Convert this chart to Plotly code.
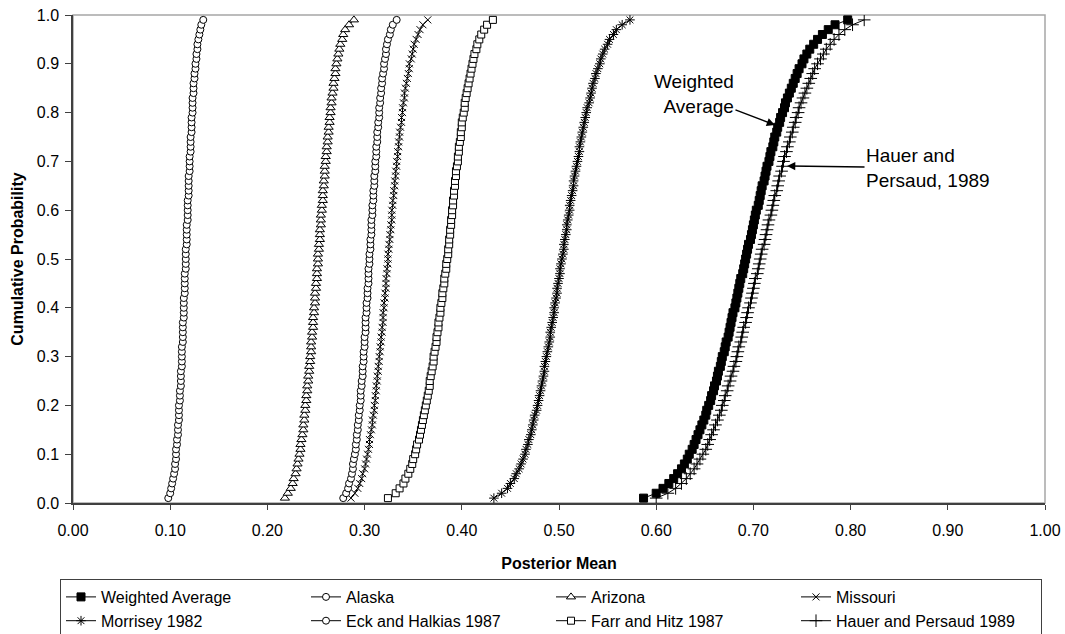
import plotly.graph_objects as go

# Cumulative probability levels (y values shared by all series)
prob = [0.01, 0.02, 0.03, 0.04, 0.05, 0.06, 0.07, 0.08, 0.09, 0.10,
        0.11, 0.12, 0.13, 0.14, 0.15, 0.16, 0.17, 0.18, 0.19, 0.20,
        0.21, 0.22, 0.23, 0.24, 0.25, 0.26, 0.27, 0.28, 0.29, 0.30,
        0.31, 0.32, 0.33, 0.34, 0.35, 0.36, 0.37, 0.38, 0.39, 0.40,
        0.41, 0.42, 0.43, 0.44, 0.45, 0.46, 0.47, 0.48, 0.49, 0.50,
        0.51, 0.52, 0.53, 0.54, 0.55, 0.56, 0.57, 0.58, 0.59, 0.60,
        0.61, 0.62, 0.63, 0.64, 0.65, 0.66, 0.67, 0.68, 0.69, 0.70,
        0.71, 0.72, 0.73, 0.74, 0.75, 0.76, 0.77, 0.78, 0.79, 0.80,
        0.81, 0.82, 0.83, 0.84, 0.85, 0.86, 0.87, 0.88, 0.89, 0.90,
        0.91, 0.92, 0.93, 0.94, 0.95, 0.96, 0.97, 0.98, 0.99]

weighted_average = [0.587, 0.600, 0.607, 0.613, 0.618, 0.622, 0.626, 0.629, 0.632, 0.634,
                    0.637, 0.639, 0.641, 0.643, 0.645, 0.647, 0.649, 0.651, 0.652, 0.654,
                    0.656, 0.657, 0.659, 0.660, 0.662, 0.663, 0.664, 0.666, 0.667, 0.668,
                    0.670, 0.671, 0.672, 0.674, 0.675, 0.676, 0.677, 0.678, 0.679, 0.681,
                    0.682, 0.683, 0.684, 0.685, 0.686, 0.687, 0.689, 0.690, 0.691, 0.692,
                    0.693, 0.694, 0.695, 0.697, 0.698, 0.699, 0.700, 0.701, 0.702, 0.703,
                    0.705, 0.706, 0.707, 0.708, 0.709, 0.711, 0.712, 0.713, 0.714, 0.716,
                    0.717, 0.718, 0.720, 0.721, 0.722, 0.724, 0.725, 0.727, 0.728, 0.730,
                    0.732, 0.733, 0.735, 0.737, 0.739, 0.741, 0.743, 0.745, 0.747, 0.750,
                    0.752, 0.755, 0.758, 0.762, 0.766, 0.771, 0.777, 0.784, 0.797]

alaska = [0.098, 0.100, 0.101, 0.102, 0.103, 0.104, 0.105, 0.105, 0.106, 0.106,
          0.106, 0.107, 0.107, 0.108, 0.108, 0.108, 0.109, 0.109, 0.109, 0.109,
          0.110, 0.110, 0.110, 0.111, 0.111, 0.111, 0.111, 0.112, 0.112, 0.112,
          0.112, 0.112, 0.113, 0.113, 0.113, 0.113, 0.113, 0.114, 0.114, 0.114,
          0.114, 0.114, 0.115, 0.115, 0.115, 0.115, 0.115, 0.116, 0.116, 0.116,
          0.116, 0.116, 0.117, 0.117, 0.117, 0.117, 0.117, 0.118, 0.118, 0.118,
          0.118, 0.118, 0.119, 0.119, 0.119, 0.119, 0.119, 0.120, 0.120, 0.120,
          0.120, 0.121, 0.121, 0.121, 0.121, 0.122, 0.122, 0.122, 0.122, 0.123,
          0.123, 0.123, 0.123, 0.124, 0.124, 0.124, 0.125, 0.125, 0.126, 0.126,
          0.127, 0.127, 0.128, 0.128, 0.129, 0.130, 0.131, 0.132, 0.134]

arizona = [0.218, 0.221, 0.224, 0.226, 0.227, 0.229, 0.230, 0.231, 0.232, 0.233,
           0.234, 0.234, 0.235, 0.236, 0.237, 0.237, 0.238, 0.238, 0.239, 0.239,
           0.240, 0.240, 0.241, 0.241, 0.242, 0.242, 0.243, 0.243, 0.244, 0.244,
           0.245, 0.245, 0.245, 0.246, 0.246, 0.247, 0.247, 0.247, 0.248, 0.248,
           0.249, 0.249, 0.249, 0.250, 0.250, 0.251, 0.251, 0.251, 0.252, 0.252,
           0.252, 0.253, 0.253, 0.254, 0.254, 0.254, 0.255, 0.255, 0.255, 0.256,
           0.256, 0.257, 0.257, 0.257, 0.258, 0.258, 0.259, 0.259, 0.259, 0.260,
           0.260, 0.261, 0.261, 0.262, 0.262, 0.263, 0.263, 0.264, 0.264, 0.265,
           0.265, 0.266, 0.266, 0.267, 0.268, 0.268, 0.269, 0.270, 0.270, 0.271,
           0.272, 0.273, 0.274, 0.275, 0.277, 0.278, 0.280, 0.284, 0.289]

missouri = [0.286, 0.290, 0.293, 0.295, 0.297, 0.298, 0.300, 0.301, 0.302, 0.303,
            0.304, 0.305, 0.305, 0.306, 0.307, 0.308, 0.308, 0.309, 0.310, 0.310,
            0.311, 0.311, 0.312, 0.312, 0.313, 0.313, 0.314, 0.314, 0.315, 0.315,
            0.316, 0.316, 0.317, 0.317, 0.318, 0.318, 0.319, 0.319, 0.319, 0.320,
            0.320, 0.321, 0.321, 0.322, 0.322, 0.322, 0.323, 0.323, 0.324, 0.324,
            0.324, 0.325, 0.325, 0.326, 0.326, 0.327, 0.327, 0.328, 0.328, 0.328,
            0.329, 0.329, 0.330, 0.330, 0.331, 0.331, 0.332, 0.332, 0.333, 0.333,
            0.334, 0.334, 0.335, 0.335, 0.336, 0.336, 0.337, 0.338, 0.338, 0.339,
            0.339, 0.340, 0.341, 0.341, 0.342, 0.343, 0.344, 0.345, 0.346, 0.346,
            0.348, 0.349, 0.350, 0.351, 0.353, 0.355, 0.357, 0.360, 0.365]

morrisey_1982 = [0.433, 0.441, 0.447, 0.450, 0.454, 0.456, 0.459, 0.461, 0.463, 0.465,
                 0.466, 0.468, 0.469, 0.471, 0.472, 0.473, 0.474, 0.475, 0.477, 0.478,
                 0.479, 0.480, 0.481, 0.482, 0.483, 0.484, 0.485, 0.485, 0.486, 0.487,
                 0.488, 0.489, 0.490, 0.491, 0.491, 0.492, 0.493, 0.494, 0.495, 0.495,
                 0.496, 0.497, 0.498, 0.498, 0.499, 0.500, 0.501, 0.501, 0.502, 0.503,
                 0.504, 0.505, 0.505, 0.506, 0.507, 0.508, 0.508, 0.509, 0.510, 0.511,
                 0.511, 0.512, 0.513, 0.514, 0.515, 0.515, 0.516, 0.517, 0.518, 0.519,
                 0.520, 0.521, 0.521, 0.522, 0.523, 0.524, 0.525, 0.526, 0.527, 0.528,
                 0.529, 0.531, 0.532, 0.533, 0.534, 0.535, 0.537, 0.538, 0.540, 0.542,
                 0.543, 0.545, 0.547, 0.550, 0.552, 0.556, 0.559, 0.565, 0.573]

eck_halkias_1987 = [0.278, 0.281, 0.283, 0.284, 0.286, 0.287, 0.288, 0.288, 0.289, 0.290,
                    0.291, 0.291, 0.292, 0.292, 0.293, 0.293, 0.294, 0.294, 0.295, 0.295,
                    0.296, 0.296, 0.296, 0.297, 0.297, 0.298, 0.298, 0.298, 0.299, 0.299,
                    0.299, 0.300, 0.300, 0.300, 0.301, 0.301, 0.301, 0.301, 0.302, 0.302,
                    0.302, 0.303, 0.303, 0.303, 0.304, 0.304, 0.304, 0.304, 0.305, 0.305,
                    0.305, 0.306, 0.306, 0.306, 0.307, 0.307, 0.307, 0.307, 0.308, 0.308,
                    0.308, 0.309, 0.309, 0.309, 0.310, 0.310, 0.310, 0.311, 0.311, 0.311,
                    0.312, 0.312, 0.312, 0.313, 0.313, 0.313, 0.314, 0.314, 0.315, 0.315,
                    0.315, 0.316, 0.316, 0.317, 0.317, 0.318, 0.318, 0.319, 0.320, 0.320,
                    0.321, 0.322, 0.322, 0.323, 0.324, 0.326, 0.327, 0.329, 0.333]

farr_hitz_1987 = [0.324, 0.332, 0.336, 0.340, 0.342, 0.345, 0.347, 0.349, 0.350, 0.352,
                  0.353, 0.354, 0.356, 0.357, 0.358, 0.359, 0.360, 0.361, 0.362, 0.363,
                  0.364, 0.365, 0.366, 0.367, 0.367, 0.368, 0.369, 0.370, 0.371, 0.371,
                  0.372, 0.373, 0.374, 0.374, 0.375, 0.376, 0.376, 0.377, 0.378, 0.378,
                  0.379, 0.380, 0.380, 0.381, 0.382, 0.382, 0.383, 0.384, 0.384, 0.385,
                  0.386, 0.386, 0.387, 0.387, 0.388, 0.388, 0.389, 0.389, 0.390, 0.390,
                  0.391, 0.391, 0.392, 0.392, 0.393, 0.393, 0.394, 0.394, 0.395, 0.396,
                  0.396, 0.397, 0.397, 0.398, 0.399, 0.399, 0.400, 0.400, 0.401, 0.402,
                  0.403, 0.403, 0.404, 0.405, 0.406, 0.407, 0.408, 0.409, 0.410, 0.411,
                  0.412, 0.413, 0.415, 0.416, 0.418, 0.420, 0.423, 0.426, 0.432]

hauer_persaud_1989 = [0.600, 0.612, 0.620, 0.626, 0.631, 0.635, 0.639, 0.642, 0.645, 0.648,
                      0.651, 0.653, 0.655, 0.657, 0.659, 0.661, 0.663, 0.665, 0.667, 0.668,
                      0.670, 0.671, 0.673, 0.674, 0.676, 0.677, 0.679, 0.680, 0.682, 0.683,
                      0.684, 0.685, 0.687, 0.688, 0.689, 0.690, 0.692, 0.693, 0.694, 0.695,
                      0.697, 0.698, 0.699, 0.700, 0.701, 0.702, 0.704, 0.705, 0.706, 0.707,
                      0.708, 0.709, 0.711, 0.712, 0.713, 0.714, 0.715, 0.716, 0.718, 0.719,
                      0.720, 0.721, 0.722, 0.724, 0.725, 0.726, 0.727, 0.729, 0.730, 0.731,
                      0.732, 0.734, 0.735, 0.737, 0.738, 0.740, 0.741, 0.743, 0.744, 0.746,
                      0.747, 0.749, 0.751, 0.753, 0.755, 0.757, 0.759, 0.761, 0.763, 0.766,
                      0.769, 0.772, 0.775, 0.779, 0.783, 0.788, 0.794, 0.802, 0.814]

series_names = ["Weighted Average", "Alaska", "Arizona", "Missouri",
                "Morrisey 1982", "Eck and Halkias 1987", "Farr and Hitz 1987",
                "Hauer and Persaud 1989"]
series_values = [weighted_average, alaska, arizona, missouri,
                 morrisey_1982, eck_halkias_1987, farr_hitz_1987, hauer_persaud_1989]

x_ticks = [0.0, 0.1, 0.2, 0.3, 0.4, 0.5, 0.6, 0.7, 0.8, 0.9, 1.0]
y_ticks = [0.0, 0.1, 0.2, 0.3, 0.4, 0.5, 0.6, 0.7, 0.8, 0.9, 1.0]

for n, v in zip(series_names, series_values):
    if len(v) != len(prob):
        raise ValueError(f"{n}: {len(v)} values")

# marker styles per series (symbol, size, fill colour)
styles = [
    ("square", 8, "black"),
    ("circle", 7, "white"),
    ("triangle-up", 8, "white"),
    ("x-thin-open", 7, "black"),
    ("asterisk-open", 8, "black"),
    ("circle", 7, "white"),
    ("square", 7, "white"),
    ("cross-thin-open", 9, "black"),
]

FONT = "Liberation Sans, Arial, sans-serif"
AXIS = "#404040"

fig = go.Figure()
for name, vals, (sym, size, fill) in zip(series_names, series_values, styles):
    fig.add_trace(go.Scatter(
        x=vals, y=prob, name=name, mode="lines+markers",
        line=dict(color="black", width=1),
        marker=dict(symbol=sym, size=size, color=fill,
                    line=dict(color="black", width=1)),
    ))

W, H = 1065, 634
ML, MR, MT, MB = 73, 20, 15, 131
pw, ph = W - ML - MR, H - MT - MB

fig.update_layout(
    width=W, height=H,
    margin=dict(l=ML, r=MR, t=MT, b=MB, pad=0, autoexpand=False),
    paper_bgcolor="white", plot_bgcolor="white",
    font=dict(family=FONT, size=16, color="black"),
    showlegend=True,
    legend=dict(
        orientation="h",
        x=(60 - ML) / pw, xanchor="left",
        y=(MT + ph - 579) / ph, yanchor="top",
        bordercolor=AXIS, borderwidth=1, bgcolor="white",
        entrywidth=200, entrywidthmode="pixels",
        font=dict(family=FONT, size=16, color="black"),
        itemclick=False,
    ),
    xaxis=dict(
        range=[0, 1], tickvals=x_ticks, tickformat=".2f",
        automargin=False,
        showline=True, linecolor=AXIS, linewidth=1.5,
        ticks="outside", ticklen=5, tickcolor=AXIS, tickwidth=1,
        ticklabelstandoff=7,
        showgrid=False, zeroline=False,
        tickfont=dict(size=16),
        title=dict(text="Posterior Mean", standoff=20,
                   font=dict(size=16, weight="bold")),
    ),
    yaxis=dict(
        range=[0, 1], tickvals=y_ticks, tickformat=".1f",
        automargin=False,
        showline=True, linecolor=AXIS, linewidth=1.5,
        ticks="outside", ticklen=6, tickcolor=AXIS, tickwidth=1,
        ticklabelstandoff=3,
        showgrid=False, zeroline=False,
        tickfont=dict(size=16),
        title=dict(text="Cumulative Probability", standoff=9,
                   font=dict(size=16, weight="bold")),
    ),
    shapes=[dict(type="rect", xref="paper", yref="paper", x0=0, x1=1, y0=0, y1=1,
                 line=dict(color="#a6a6a6", width=1.5), layer="below")],
    annotations=[
        dict(x=0.7222, y=0.7746, xref="x", yref="y",
             text="Weighted<br>Average", align="right",
             showarrow=True, ax=-81, ay=-31, axref="pixel", ayref="pixel",
             arrowhead=2, arrowsize=1.1, arrowwidth=1.5, arrowcolor="black",
             font=dict(family=FONT, size=19, color="black")),
        dict(x=0.7346, y=0.6906, xref="x", yref="y",
             text="Hauer and<br>Persaud, 1989", align="left",
             showarrow=True, ax=141, ay=2, axref="pixel", ayref="pixel",
             arrowhead=2, arrowsize=1.1, arrowwidth=1.5, arrowcolor="black",
             font=dict(family=FONT, size=19, color="black")),
    ],
)

fig.write_html("out.html")
